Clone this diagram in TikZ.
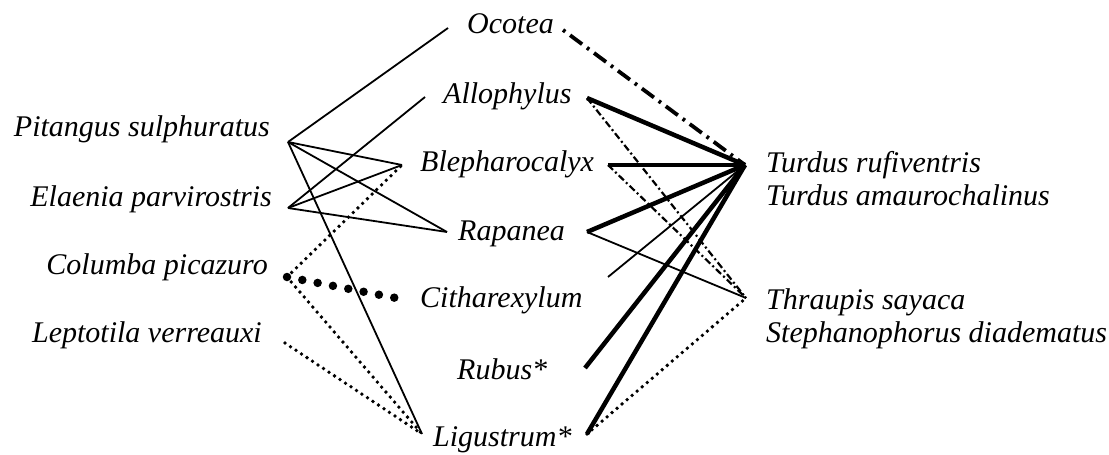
\documentclass[tikz,border=0pt]{standalone}
\usepackage{fontspec}
\setmainfont{Liberation Serif}
\usetikzlibrary{calc}

\tikzset{
  sp/.style={font=\fontsize{30}{33}\selectfont\itshape, inner sep=0pt},
  lnk/.style={line width=1.8pt},
  heavy/.style={line width=4.5pt},
  fine dots/.style={line width=3.8pt, line cap=round, dash pattern=on 0pt off 6.6pt},
  big dots/.style={line width=8.5pt, line cap=round, dash pattern=on 0pt off 15.6pt},
  dd heavy/.style={line width=3.8pt, dash pattern=on 2.8pt off 6pt on 15pt off 6pt},
  dd light/.style={line width=2.2pt, dash pattern=on 7pt off 3pt on 2pt off 3pt}
}

\begin{document}
\begin{tikzpicture}[x=1pt,y=-1pt]
    \useasboundingbox (0,0) rectangle (1109,455);
    % birds, left
    \node[sp,anchor=base east] (pitangus)  at (270,136) {Pitangus sulphuratus};
    \node[sp,anchor=base east] (elaenia)   at (272,206) {Elaenia parvirostris};
    \node[sp,anchor=base east] (columba)   at (268,274) {Columba picazuro};
    \node[sp,anchor=base east] (leptotila) at (262,342) {Leptotila verreauxi};
    % plants
    \node[sp,anchor=base west] (ocotea)     at (467,34)  {Ocotea};
    \node[sp,anchor=base west] (allophylus) at (443,103) {Allophylus};
    \node[sp,anchor=base west] (blepharo)   at (420,171) {Blepharocalyx};
    \node[sp,anchor=base west] (rapanea)    at (458,240) {Rapanea};
    \node[sp,anchor=base west] (citharex)   at (420,307) {Citharexylum};
    \node[sp,anchor=base west] (rubus)      at (457,379) {Rubus*};
    \node[sp,anchor=base west] (ligustrum)  at (433,446) {Ligustrum*};
    % birds, right (base = last line)
    \node[sp,anchor=base west,align=left] (turdus)   at (766,205) {Turdus rufiventris\\Turdus amaurochalinus};
    \node[sp,anchor=base west,align=left] (thraupis) at (766,342) {Thraupis sayaca\\Stephanophorus diadematus};

    % line ends
    \coordinate (pit) at (288,142);
    \coordinate (ela) at (288,208);
    \coordinate (col) at (287,277);
    \coordinate (lep) at (285,343);
    \coordinate (ocoL) at (448,28);  \coordinate (ocoR) at (563,30);
    \coordinate (allL) at (425,97);  \coordinate (allR) at (587,98);
    \coordinate (bleL) at (402,165); \coordinate (bleR) at (608,165);
    \coordinate (rapL) at (447,232); \coordinate (rapR) at (587,232);
    \coordinate (citL) at (396,298); \coordinate (citR) at (608,277);
    \coordinate (rubR) at (585,368);
    \coordinate (ligL) at (422,434); \coordinate (ligR) at (587,434);
    \coordinate (tur) at (745,165);
    \coordinate (thr) at (746,298);

    % left links
    \draw[lnk] (pit) -- (ocoL);
    \draw[lnk] (pit) -- (bleL);
    \draw[lnk] (pit) -- (rapL);
    \draw[lnk] (pit) -- (ligL);
    \draw[lnk] (ela) -- (allL);
    \draw[lnk] (ela) -- (bleL);
    \draw[lnk] (ela) -- (rapL);
    \draw[fine dots] (col) -- (bleL);
    \draw[big dots] (col) -- (citL);
    \draw[fine dots] (col) -- (ligL);
    \draw[fine dots] (lep) -- (ligL);

    % right links
    \draw[dd heavy] (ocoR) -- (tur);
    \draw[heavy] (allR) -- (tur);
    \draw[dd light] (allR) -- (thr);
    \draw[heavy] (bleR) -- (tur);
    \draw[dd light] (bleR) -- (thr);
    \draw[heavy] (rapR) -- (tur);
    \draw[lnk] (rapR) -- (thr);
    \draw[lnk] (citR) -- (tur);
    \draw[heavy] (rubR) -- (tur);
    \draw[heavy] (ligR) -- (tur);
    \draw[fine dots] (ligR) -- (thr);
\end{tikzpicture}
\end{document}
